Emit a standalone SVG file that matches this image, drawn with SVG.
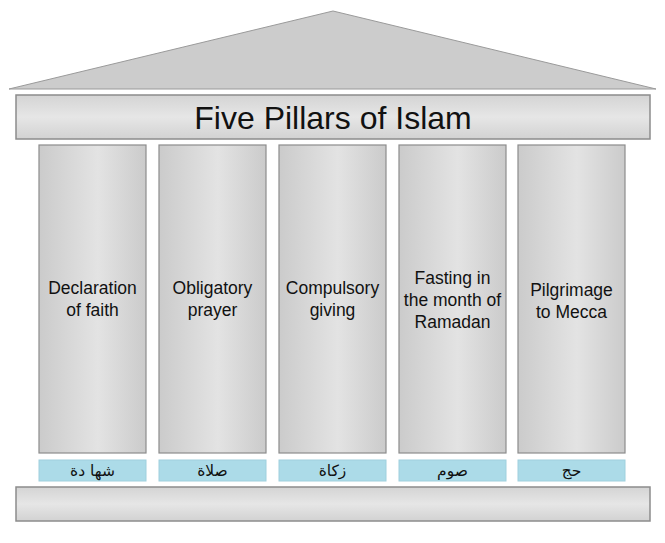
<svg xmlns="http://www.w3.org/2000/svg" width="665" height="543" viewBox="0 0 665 543">
<defs>
<linearGradient id="gcol" x1="0" y1="0" x2="1" y2="0">
<stop offset="0" stop-color="#cbcbcb"/>
<stop offset="0.55" stop-color="#e3e3e3"/>
<stop offset="1" stop-color="#cbcbcb"/>
</linearGradient>
<linearGradient id="gbar" x1="0" y1="0" x2="0" y2="1">
<stop offset="0" stop-color="#d4d4d4"/>
<stop offset="0.5" stop-color="#e6e6e6"/>
<stop offset="1" stop-color="#d2d2d2"/>
</linearGradient>
<style>
.col{fill:url(#gcol);stroke:#8c8c8c;stroke-width:1.2}
.bar{fill:url(#gbar);stroke:#8c8c8c;stroke-width:1.5}
.lab{fill:#acdbe8;stroke:#9fd0de;stroke-width:1}
.t{font-family:"Liberation Sans",Arial,sans-serif;font-size:17.5px;fill:#111;text-anchor:middle}
.ar{font-family:"DejaVu Sans",sans-serif;font-size:15.5px;fill:#111;text-anchor:middle}
</style>
</defs>
<g id="roof"><polygon points="333,11 9,89 656,89" fill="#cccccc" stroke="#9a9a9a" stroke-width="1"/></g>
<g id="title"><rect class="bar" x="16" y="95" width="634" height="44"/>
<text x="333" y="129" font-family="Liberation Sans,Arial,sans-serif" font-size="32" fill="#111" text-anchor="middle">Five Pillars of Islam</text></g>
<g id="p1"><rect class="col" x="39" y="145" width="107" height="308"/><text class="t" x="92.5" y="294">Declaration</text><text class="t" x="92.5" y="316">of faith</text></g>
<g id="p2"><rect class="col" x="159" y="145" width="107" height="308"/><text class="t" x="212.5" y="294">Obligatory</text><text class="t" x="212.5" y="316">prayer</text></g>
<g id="p3"><rect class="col" x="279" y="145" width="107" height="308"/><text class="t" x="332.5" y="294">Compulsory</text><text class="t" x="332.5" y="316">giving</text></g>
<g id="p4"><rect class="col" x="399" y="145" width="107" height="308"/><text class="t" x="452.5" y="284">Fasting in</text><text class="t" x="452.5" y="306">the month of</text><text class="t" x="452.5" y="328">Ramadan</text></g>
<g id="p5"><rect class="col" x="518" y="145" width="107" height="308"/><text class="t" x="571.5" y="296">Pilgrimage</text><text class="t" x="571.5" y="318">to Mecca</text></g>
<g id="l1"><rect class="lab" x="39" y="460" width="107" height="21"/><text class="ar" x="92.5" y="476">شها دة</text></g>
<g id="l2"><rect class="lab" x="159" y="460" width="107" height="21"/><text class="ar" x="212.5" y="476">صلاة</text></g>
<g id="l3"><rect class="lab" x="279" y="460" width="107" height="21"/><text class="ar" x="332.5" y="476">زكاة</text></g>
<g id="l4"><rect class="lab" x="399" y="460" width="107" height="21"/><text class="ar" x="452.5" y="476">صوم</text></g>
<g id="l5"><rect class="lab" x="518" y="460" width="107" height="21"/><text class="ar" x="571.5" y="476">حج</text></g>
<g id="base"><rect class="bar" x="16" y="487" width="634" height="34"/></g>
<g id="connectors"></g>
</svg>
